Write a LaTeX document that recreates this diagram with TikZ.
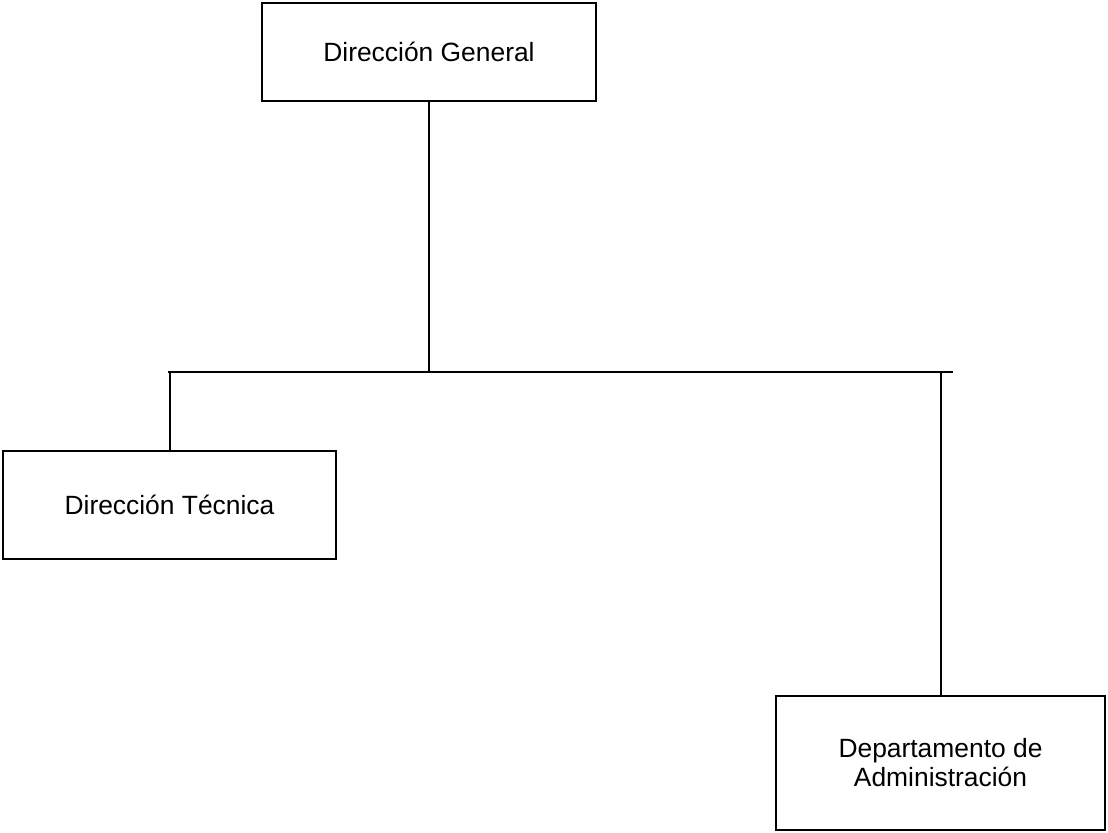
\documentclass[tikz,border=0pt]{standalone}
\usepackage{fontspec}
\setmainfont{Liberation Sans}
\begin{document}
\begin{tikzpicture}[x=0.5pt, y=-0.5pt,
    caja/.style={draw, line width=1.4pt, inner sep=0pt, align=center,
        font=\fontsize{13.2}{14.5}\selectfont},
    enlace/.style={line width=1pt}]
\useasboundingbox (0,0) rectangle (1108,833);
\node[caja, minimum width=167pt, minimum height=49pt] (general) at (429,52) {Dirección General};
\node[caja, minimum width=166.5pt, minimum height=54pt] (tecnica) at (169.5,505) {Dirección Técnica};
\node[caja, minimum width=164.5pt, minimum height=67pt] (admin) at (940.5,763) {Departamento de\\Administración};
\coordinate (barraizq) at (168,372);
\coordinate (barrader) at (953,372);
\draw[enlace] (general.south) -- (general.south |- barraizq);
\draw[enlace] (barraizq) -- (barrader);
\draw[enlace] (tecnica.north) -- (tecnica.north |- barraizq);
\draw[enlace] (admin.north) -- (admin.north |- barrader);
\end{tikzpicture}
\end{document}
